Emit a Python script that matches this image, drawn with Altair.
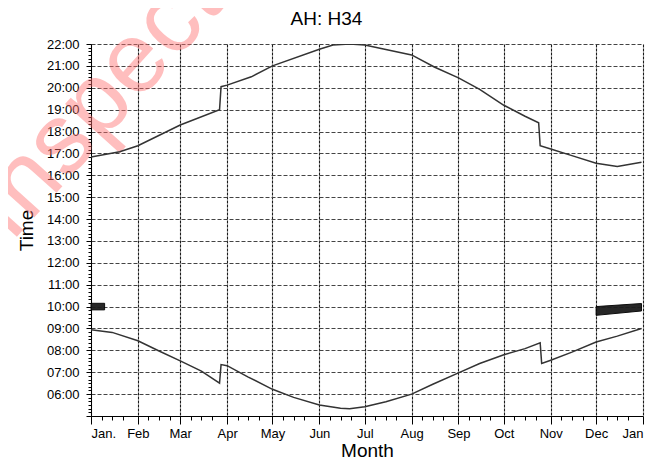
import json
import altair as alt
import pandas as pd

# ---------------- data ----------------
sunset_dates = ["01-01", "01-20", "02-01", "03-01", "03-27", "03-28", "04-01", "04-17",
                "05-01", "06-01", "06-10", "06-21", "07-01", "08-01", "08-16", "09-01",
                "09-15", "10-01", "10-15", "10-24", "10-25", "11-01", "11-15", "12-01",
                "12-15", "12-31"]
sunset_hours = [16.83, 17.08, 17.35, 18.3, 19.0, 20.05, 20.12, 20.5,
                21.0, 21.76, 21.95, 22.0, 21.95, 21.5, 20.95, 20.45,
                19.93, 19.2, 18.7, 18.4, 17.35, 17.2, 16.9, 16.55,
                16.4, 16.6]

sunrise_dates = ["01-01", "01-15", "02-01", "02-15", "03-01", "03-15", "03-27", "03-28",
                 "04-01", "04-15", "05-01", "05-15", "06-01", "06-15", "06-21", "07-01",
                 "07-15", "08-01", "08-15", "09-01", "09-15", "10-01", "10-15", "10-25",
                 "10-26", "11-01", "11-15", "12-01", "12-15", "12-31"]
sunrise_hours = [8.94, 8.82, 8.44, 7.97, 7.52, 7.05, 6.5, 7.35,
                 7.3, 6.78, 6.22, 5.85, 5.5, 5.35, 5.33, 5.42,
                 5.65, 6.0, 6.45, 6.97, 7.4, 7.8, 8.08, 8.35,
                 7.4, 7.55, 7.92, 8.38, 8.65, 9.0]

band_names = ["jan", "jan", "dec", "dec"]
band_dates = ["01-01", "01-10", "12-01", "12-31"]
band_low = [9.85, 9.85, 9.6, 9.8]
band_high = [10.15, 10.15, 10.0, 10.14]

month_labels = ["Jan.", "Feb", "Mar", "Apr", "May", "Jun", "Jul", "Aug",
                "Sep", "Oct", "Nov", "Dec", "Jan"]
month_starts = [0, 31, 59, 90, 120, 151, 181, 212, 243, 273, 304, 334, 365]

title_text = "AH: H34"
watermark_text = "Inspection"


def doy(md):
    return (pd.Timestamp("2021-" + md) - pd.Timestamp("2021-01-01")).days


lines_df = pd.concat([
    pd.DataFrame({"day": [doy(d) for d in sunset_dates], "hour": sunset_hours, "series": "sunset"}),
    pd.DataFrame({"day": [doy(d) for d in sunrise_dates], "hour": sunrise_hours, "series": "sunrise"}),
])
bands_df = pd.DataFrame({"band": band_names, "day": [doy(d) for d in band_dates],
                         "hour": band_low, "hi": band_high})
wm_df = pd.DataFrame({"label": [watermark_text]})
title_df = pd.DataFrame({"label": [title_text]})

FONT = "Liberation Sans"

# axis tick positions
x_minor = []
for s, e in zip(month_starts[:-1], month_starts[1:]):
    x_minor += [s + 7, s + 14, s + 21]
x_values = sorted(month_starts + x_minor)
y_values = [round(5 + k / 6, 5) for k in range(0, 17 * 6 + 1)]

starts_js = json.dumps(month_starts)
labels_js = json.dumps(month_labels)
x_label_expr = (f"indexof({starts_js}, datum.value) >= 0 ? "
                f"{labels_js}[indexof({starts_js}, datum.value)] : ''")
x_is_major = f"indexof({starts_js}, datum.value) >= 0"

y_is_major = "abs(datum.value - round(datum.value)) < 0.01"
y_label_expr = (f"{y_is_major} && round(datum.value) >= 6 ? "
                "(round(datum.value) < 10 ? '0' : '') + round(datum.value) + ':00' : ''")

x_scale = alt.Scale(domain=[0, 365], nice=False, zero=False)
y_scale = alt.Scale(domain=[5, 22], nice=False, zero=False)

x_axis = alt.Axis(
    values=x_values, labelExpr=x_label_expr, labelOverlap=False,
    title="Month", titleFont=FONT, titleFontSize=19, titleFontWeight="normal",
    titleColor="#000", titleBaseline="alphabetic", titleY=40,
    labelFont=FONT, labelFontSize=13, labelColor="#000", labelPadding=3,
    domainColor="#000", domainWidth=1,
    tickColor="#000",
    tickSize={"condition": {"test": x_is_major, "value": 8}, "value": 4},
    grid=True,
    gridColor="#1a1a1a", gridWidth=1.1, gridDash=[3, 1],
    gridOpacity={"condition": {"test": x_is_major, "value": 1}, "value": 0},
)
y_axis = alt.Axis(
    values=y_values, labelExpr=y_label_expr, labelOverlap=False,
    title="Time", titleFont=FONT, titleFontSize=19, titleFontWeight="normal",
    titleColor="#000", titlePadding=10,
    labelFont=FONT, labelFontSize=13, labelColor="#000", labelPadding=7,
    domainColor="#000", domainWidth=1,
    tickColor="#000",
    tickSize={"condition": {"test": y_is_major, "value": 5}, "value": 3},
    grid=True,
    gridColor="#444", gridWidth=1, gridDash=[4, 2],
    gridOpacity={"condition": {"test": y_is_major, "value": 1}, "value": 0},
)

watermark = alt.Chart(wm_df).mark_text(
    font=FONT, fontSize=100, angle=312, color="#ff7070", opacity=0.45,
    align="center", baseline="middle",
).encode(x=alt.value(50), y=alt.value(10), text="label:N")

title = alt.Chart(title_df).mark_text(
    font=FONT, fontSize=19, color="#000", align="center", baseline="alphabetic",
).encode(x=alt.value(235.5), y=alt.value(-19), text="label:N")

bands = alt.Chart(bands_df).mark_area(
    color="#1c1c1c", stroke="#000", strokeWidth=1, opacity=0.95
).encode(
    x=alt.X("day:Q", scale=x_scale, axis=x_axis),
    y=alt.Y("hour:Q", scale=y_scale, axis=y_axis),
    y2="hi:Q",
    detail="band:N",
)

lines = alt.Chart(lines_df).mark_line(
    color="#333", strokeWidth=1.5, clip=True
).encode(
    x=alt.X("day:Q", scale=x_scale, axis=x_axis),
    y=alt.Y("hour:Q", scale=y_scale, axis=y_axis),
    detail="series:N",
    order="day:Q",
)

chart = alt.layer(watermark, lines, bands, title).properties(
    width=552, height=372,
    padding={"left": 83, "top": 36, "right": 15, "bottom": 42},
    autosize="none",
).configure_view(stroke=None)

chart.save("out.html", embed_options={"renderer": "svg", "actions": False})
